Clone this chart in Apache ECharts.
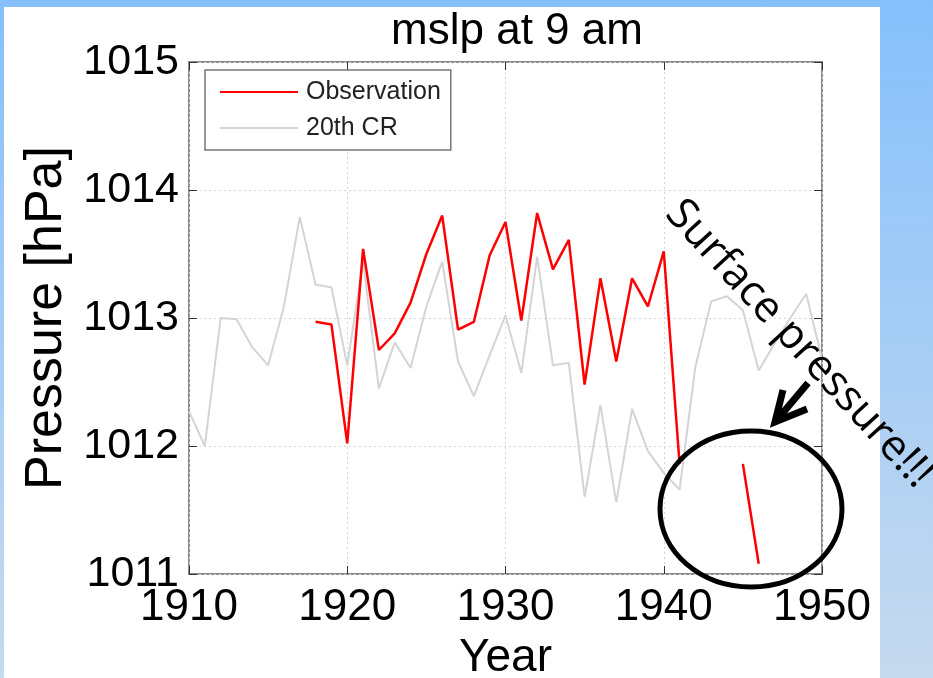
<!DOCTYPE html>
<html>
<head>
<meta charset="utf-8">
<script src="https://cdn.jsdelivr.net/npm/echarts@6/dist/echarts.min.js"></script>
<style>
  html, body { margin: 0; padding: 0; }
  body { width: 933px; height: 678px; background: linear-gradient(#86c0fc, #c6daee); position: relative; overflow: hidden; }
  #panel { position: absolute; left: 4px; top: 7px; width: 876px; height: 671px; background: #fff; }
  #chart { position: absolute; left: 0; top: 0; width: 933px; height: 678px; }
</style>
</head>
<body>
<div id="panel"></div>
<div id="chart"></div>
<script>
// 20th Century Reanalysis, one value per year
var crYears = [1910, 1911, 1912, 1913, 1914, 1915, 1916, 1917, 1918, 1919,
  1920, 1921, 1922, 1923, 1924, 1925, 1926, 1927, 1928, 1929,
  1930, 1931, 1932, 1933, 1934, 1935, 1936, 1937, 1938, 1939,
  1940, 1941, 1942, 1943, 1944, 1945, 1946, 1947, 1948, 1949, 1950];
var crValues = [1012.27, 1012.0, 1013.0, 1012.99, 1012.77, 1012.63, 1013.09, 1013.79, 1013.26, 1013.24,
  1012.63, 1013.44, 1012.45, 1012.81, 1012.61, 1013.09, 1013.44, 1012.66, 1012.39, 1012.71,
  1013.02, 1012.57, 1013.48, 1012.63, 1012.65, 1011.6, 1012.32, 1011.56, 1012.29, 1011.96,
  1011.79, 1011.66, 1012.62, 1013.13, 1013.17, 1013.06, 1012.59, 1012.8, 1013.0, 1013.19, 1012.68];

// station observations (gap 1942-1944)
var obsYears = [1918, 1919, 1920, 1921, 1922, 1923, 1924, 1925, 1926, 1927,
  1928, 1929, 1930, 1931, 1932, 1933, 1934, 1935, 1936, 1937,
  1938, 1939, 1940, 1941, 1942, 1943, 1944, 1945, 1946];
var obsValues = [1012.97, 1012.95, 1012.02, 1013.54, 1012.75, 1012.88, 1013.12, 1013.5, 1013.8, 1012.91,
  1012.97, 1013.49, 1013.75, 1012.98, 1013.82, 1013.38, 1013.61, 1012.48, 1013.31, 1012.66,
  1013.31, 1013.09, 1013.52, 1011.86, null, null, null, 1011.86, 1011.08];

var xTicks = { min: 1910, max: 1950, step: 10 };
var yTicks = { min: 1011, max: 1015, step: 1 };

(function() {
  var chart = echarts.init(document.getElementById('chart'), null, { renderer: 'canvas' });
  var font = '"Liberation Sans", Arial, Helvetica, sans-serif';
  var gridLine = { show: true, lineStyle: { color: '#d4d4d4', type: [2, 3], width: 1 } };
  var tick = { show: true, inside: true, length: 8, lineStyle: { color: '#333', width: 1 } };
  var plain = function(v) { return String(v); };

  function pairs(xs, ys) {
    return xs.map(function(x, i) { return [x, ys[i]]; });
  }

  chart.setOption({
    animation: false,
    backgroundColor: 'transparent',
    textStyle: { fontFamily: font },
    title: {
      text: 'mslp at 9 am',
      left: 512,
      top: 5,
      textAlign: 'center',
      textStyle: { fontSize: 44, fontWeight: 'normal', color: '#000', fontFamily: font }
    },
    legend: {
      data: ['Observation', '20th CR'],
      orient: 'vertical',
      left: 205,
      top: 70,
      padding: [7, 10, 7, 15],
      itemGap: 6,
      itemWidth: 78,
      itemHeight: 2,
      icon: 'rect',
      backgroundColor: '#fff',
      borderColor: '#777',
      borderWidth: 1.5,
      borderRadius: 0,
      textStyle: { fontSize: 25, lineHeight: 30, color: '#222', padding: [0, 0, 0, 3], fontFamily: font }
    },
    grid: {
      left: 189, right: 111, top: 62, bottom: 104,
      containLabel: false,
      outerBoundsMode: 'none',
      show: true, borderColor: '#8c8c8c', borderWidth: 2
    },
    xAxis: [{
      type: 'value',
      min: xTicks.min, max: xTicks.max, interval: xTicks.step,
      position: 'bottom',
      name: 'Year',
      nameLocation: 'middle',
      nameGap: 49,
      nameTextStyle: { fontSize: 46, color: '#000', fontFamily: font },
      axisLine: { show: false },
      axisTick: tick,
      axisLabel: { fontSize: 44, color: '#000', margin: 12, fontFamily: font, formatter: plain },
      splitLine: gridLine
    }, {
      type: 'value',
      min: xTicks.min, max: xTicks.max, interval: xTicks.step,
      position: 'top',
      axisLine: { show: false },
      axisTick: tick,
      axisLabel: { show: false },
      splitLine: { show: false }
    }],
    yAxis: [{
      type: 'value',
      min: yTicks.min, max: yTicks.max, interval: yTicks.step,
      position: 'left',
      name: 'Pressure [hPa]',
      nameLocation: 'middle',
      nameGap: 106,
      nameTextStyle: { fontSize: 52, color: '#000', fontFamily: font },
      axisLine: { show: false },
      axisTick: tick,
      axisLabel: { fontSize: 43, color: '#000', margin: 10, fontFamily: font, formatter: plain },
      splitLine: gridLine
    }, {
      type: 'value',
      min: yTicks.min, max: yTicks.max, interval: yTicks.step,
      position: 'right',
      axisLine: { show: false },
      axisTick: tick,
      axisLabel: { show: false },
      splitLine: { show: false }
    }],
    series: [{
      name: '20th CR',
      type: 'line',
      data: pairs(crYears, crValues),
      showSymbol: false,
      symbol: 'none',
      lineStyle: { color: '#d4d4d4', width: 2 },
      itemStyle: { color: '#d4d4d4' }
    }, {
      name: 'Observation',
      type: 'line',
      data: pairs(obsYears, obsValues),
      showSymbol: false,
      symbol: 'none',
      connectNulls: false,
      lineStyle: { color: '#ff0000', width: 2.5 },
      itemStyle: { color: '#ff0000' }
    }],
    graphic: [{
      type: 'ellipse',
      shape: { cx: 751, cy: 509, rx: 91, ry: 78 },
      style: { fill: 'none', stroke: '#000', lineWidth: 5 },
      z: 100
    }, {
      type: 'polyline',
      shape: { points: [[808, 383], [776, 421]] },
      style: { stroke: '#000', lineWidth: 7, fill: 'none' },
      z: 100
    }, {
      type: 'polyline',
      shape: { points: [[783, 390], [775, 422], [807, 409]] },
      style: { stroke: '#000', lineWidth: 7, fill: 'none', lineJoin: 'miter' },
      z: 100
    }, {
      type: 'text',
      x: 799,
      y: 344,
      rotation: -47.5 * Math.PI / 180,
      style: {
        text: 'Surface pressure!!!',
        fontSize: 43,
        fontFamily: '"Open Sans", "Noto Sans", sans-serif',
        fill: '#000',
        textAlign: 'center',
        textVerticalAlign: 'middle',
        align: 'center',
        verticalAlign: 'middle'
      },
      z: 100
    }]
  });
  window.addEventListener('resize', function() { chart.resize(); });
})();
</script>
</body>
</html>
